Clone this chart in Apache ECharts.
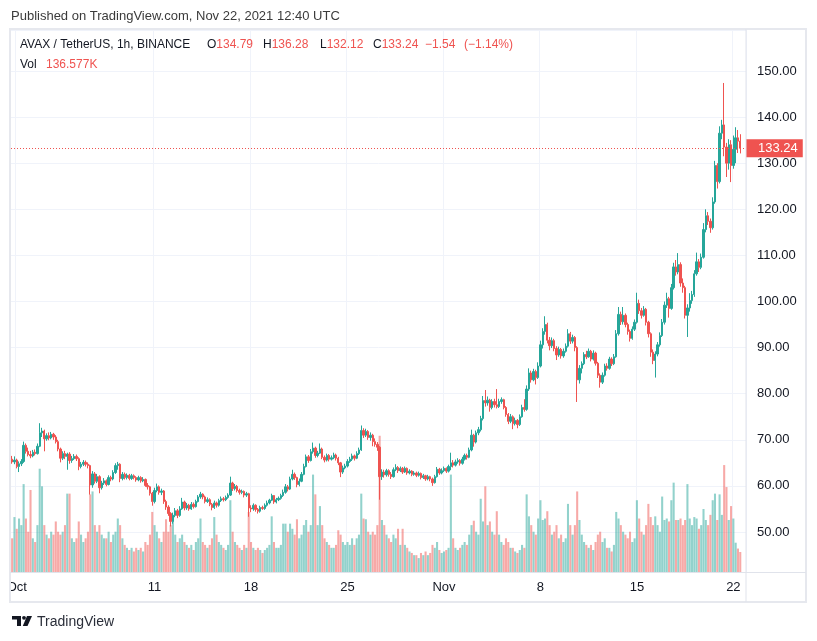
<!DOCTYPE html>
<html><head><meta charset="utf-8">
<script src="https://cdn.jsdelivr.net/npm/echarts@6/dist/echarts.min.js"></script>
<style>html,body{margin:0;padding:0;background:#fff}#c{width:817px;height:641px}</style>
</head><body><div id="c"></div>
<script>
// 4-hour candles, first one starts 2021-09-30 16:00 UTC
const startTime = Date.UTC(2021, 8, 30, 16);
const candleHours = 4;
const extraSlots = 2;

const opens = [
65.8,65.2,
65.6,64.2,64.8,65.3,68.8,67.5,
66.8,66.5,67.3,67.0,68.6,71.5,
71.9,70.2,70.9,70.4,71.2,70.6,
69.6,68.0,66.0,67.0,66.4,66.9,
65.5,65.9,66.4,65.9,64.2,64.7,
65.1,64.7,64.4,60.2,62.6,61.0,
62.0,59.6,60.6,61.1,60.3,61.8,
61.5,62.9,64.4,64.7,61.6,62.5,
61.8,62.3,61.6,62.2,61.8,61.3,
61.8,61.1,61.4,60.1,59.8,58.4,
56.6,59.0,59.8,58.6,58.9,56.6,
55.4,54.0,52.3,53.6,54.6,53.6,
55.0,56.5,55.2,55.8,55.0,56.0,
55.5,56.6,57.6,58.2,57.6,56.6,
57.0,56.0,55.3,56.3,55.8,56.8,
57.2,57.0,57.5,58.0,60.6,59.4,
59.9,59.0,58.6,58.8,58.0,58.3,
55.2,55.0,55.8,54.9,54.5,55.3,
55.1,55.8,56.3,56.9,57.9,56.5,
57.0,57.3,57.9,58.6,59.8,59.3,
61.5,62.5,61.8,60.3,61.0,62.5,
64.2,66.3,65.5,67.4,68.2,66.6,
67.1,68.0,66.2,65.6,66.6,65.8,
66.1,66.7,66.0,65.0,63.0,63.9,
64.3,65.3,65.8,66.5,66.0,67.0,
67.8,72.0,71.0,71.8,70.5,71.0,
69.6,69.0,68.4,62.0,63.0,62.4,
63.3,62.5,62.0,63.5,64.0,63.3,
63.8,63.0,63.8,62.8,63.2,62.5,
62.8,62.3,62.7,61.8,62.2,61.5,
62.0,61.5,60.7,62.0,63.6,62.8,
63.3,63.8,63.2,64.2,65.0,64.5,
65.2,65.5,64.9,65.8,66.6,66.2,
67.8,71.0,69.5,71.5,72.2,74.6,
78.5,78.0,78.6,77.0,78.3,77.6,
77.2,78.3,78.7,77.0,75.5,74.0,
75.0,73.5,74.2,73.3,75.0,77.0,
76.6,81.0,84.5,83.0,84.8,83.5,
86.0,90.6,93.5,95.0,91.6,90.4,
91.5,89.8,88.4,89.6,88.2,89.2,
90.3,93.0,91.4,92.2,90.0,83.0,
85.5,86.5,88.5,88.0,89.2,87.5,
88.8,86.6,84.0,82.5,84.0,86.0,
85.5,87.5,86.5,88.0,93.0,97.2,
95.6,97.0,95.0,93.5,92.0,94.0,
95.5,99.6,98.0,97.0,98.3,95.5,
93.0,89.0,87.2,88.6,90.6,92.6,
95.5,99.2,100.6,98.5,103.0,107.5,
106.4,108.0,104.0,103.0,97.0,98.6,
100.2,101.5,106.0,108.6,107.4,109.6,
115.6,118.6,117.4,116.0,121.6,129.5,
126.0,136.5,138.3,133.5,130.0,134.0,
129.5,133.0,135.5,134.79
];
const highs = [
66.5,66.4,
65.9,65.3,65.8,69.6,69.2,68.3,
67.6,67.8,67.9,69.2,73.6,72.6,
72.2,71.4,71.6,71.7,71.5,71.0,
70.0,68.3,67.5,67.6,67.2,67.3,
66.5,66.9,66.8,66.2,65.2,65.6,
65.5,65.1,64.6,63.2,63.0,62.6,
62.3,61.1,61.7,61.4,62.3,62.2,
63.4,64.9,65.2,64.9,63.0,62.9,
62.7,62.6,62.6,62.5,62.1,62.2,
62.1,61.9,61.6,60.6,60.0,58.7,
59.6,60.5,60.1,59.4,59.1,57.0,
55.8,54.3,54.2,55.2,55.0,55.6,
57.4,56.8,56.3,56.1,56.5,56.4,
57.0,58.0,58.7,58.4,57.9,57.5,
57.3,56.3,56.8,56.6,57.2,57.7,
57.6,57.9,58.4,62.0,60.9,60.4,
60.2,59.4,59.2,59.0,58.7,58.5,
55.8,56.2,56.0,55.2,55.7,55.7,
56.2,56.8,57.2,58.3,58.0,57.4,
57.7,58.3,59.2,60.4,60.2,62.0,
63.5,62.9,62.0,61.6,63.0,64.8,
66.8,66.7,68.0,69.4,68.5,67.6,
69.2,68.3,66.6,67.0,66.9,66.6,
67.2,67.0,66.3,65.2,64.4,64.8,
65.8,66.3,67.0,66.8,67.5,68.3,
73.1,72.5,72.4,72.1,71.6,71.3,
70.3,69.5,68.6,63.6,63.5,63.7,
63.6,63.0,64.0,64.7,64.3,64.2,
64.1,64.2,64.0,63.6,63.4,63.2,
63.1,63.1,62.9,62.6,62.4,62.4,
62.2,61.8,62.4,64.1,63.9,63.8,
64.2,64.0,64.6,67.2,65.6,65.7,
66.0,65.8,66.3,67.0,67.0,68.3,
72.2,71.3,72.0,72.8,75.2,79.5,
80.8,79.4,78.9,78.8,78.9,81.0,
78.9,79.2,78.9,77.3,75.8,75.6,
75.3,74.8,74.5,75.5,77.6,78.8,
81.8,85.5,85.0,85.4,85.2,86.8,
91.5,94.2,96.8,95.4,92.3,92.2,
91.9,90.3,90.2,89.9,89.8,90.9,
94.0,93.4,92.8,92.5,90.3,86.2,
87.0,89.0,89.3,89.8,89.5,89.4,
89.1,86.9,84.4,84.6,86.5,86.6,
88.0,87.9,88.6,93.8,98.8,97.8,
98.8,97.4,95.4,93.9,94.6,96.1,
101.9,100.4,98.6,99.0,98.6,95.8,
93.3,89.6,89.2,91.2,93.3,96.2,
100.0,101.9,101.0,103.8,108.4,109.0,
110.5,108.5,105.0,103.4,99.4,101.8,
102.3,106.8,110.6,109.2,110.4,117.0,
120.0,119.4,118.0,122.6,130.5,130.0,
138.0,139.4,147.4,134.4,135.2,135.0,
136.0,137.8,137.2,136.28
];
const lows = [
64.8,64.7,
63.8,63.0,64.3,65.0,67.0,66.4,
66.0,66.2,66.6,66.8,68.4,70.6,
67.5,69.8,69.9,70.1,70.0,69.2,
67.5,65.1,65.6,65.8,63.5,64.8,
65.0,65.6,65.4,63.4,63.8,64.3,
64.2,63.8,58.1,59.6,60.5,60.6,
58.4,59.2,60.2,59.9,60.1,61.0,
61.2,62.6,63.5,60.8,61.2,61.4,
61.4,61.2,61.3,61.4,60.9,61.0,
60.7,60.8,59.8,59.2,57.9,55.7,
56.2,58.6,58.1,58.0,56.1,54.8,
53.5,51.2,51.8,53.2,53.0,53.3,
54.8,54.7,54.8,54.6,54.8,55.1,
55.3,56.4,57.2,57.1,56.2,56.3,
55.6,54.7,55.0,55.3,55.5,56.5,
56.6,56.7,57.2,57.8,58.9,59.0,
58.6,58.1,58.2,57.5,57.6,53.3,
54.3,54.6,54.4,54.0,54.2,54.8,
54.8,55.5,56.0,56.7,56.1,56.2,
56.7,57.0,57.6,58.3,58.8,59.1,
61.2,61.3,59.7,59.9,60.8,62.3,
64.0,65.0,65.3,67.0,66.1,66.2,
66.9,65.8,65.1,65.3,65.3,65.5,
65.8,65.5,64.5,61.9,62.6,63.6,
64.0,65.0,65.4,65.5,65.8,66.7,
67.6,70.4,70.6,70.0,69.8,68.6,
68.5,67.6,57.0,61.3,61.8,62.0,
62.0,61.5,61.8,63.2,62.8,63.0,
62.6,62.8,62.4,62.5,62.1,62.2,
61.9,62.0,61.4,61.5,61.1,61.2,
61.0,60.0,60.5,61.8,62.4,62.5,
63.0,62.8,62.9,63.4,64.0,64.2,
64.8,64.4,64.6,65.5,65.7,66.0,
67.5,68.5,69.2,71.0,71.8,74.2,
77.2,77.4,76.1,76.6,77.0,76.8,
76.9,77.8,76.6,75.0,73.4,73.6,
72.3,73.1,72.5,73.0,74.8,76.1,
76.3,80.6,82.4,82.7,82.0,83.2,
85.7,89.8,92.8,90.9,89.4,89.9,
89.2,87.3,88.0,87.6,87.8,88.9,
90.0,90.8,90.9,89.2,78.2,82.2,
84.4,86.2,87.5,87.8,87.0,87.2,
86.1,83.4,81.3,82.1,83.7,85.0,
85.2,86.0,86.2,87.8,92.6,94.9,
95.0,94.4,92.8,91.3,91.7,93.6,
95.2,97.3,96.3,96.7,94.8,92.2,
88.0,86.4,83.5,88.1,90.2,92.3,
95.0,98.6,96.5,98.2,102.6,105.6,
105.9,103.2,101.9,96.3,92.3,97.8,
99.5,101.0,105.6,106.4,107.0,109.3,
115.0,116.6,114.9,115.6,121.2,124.5,
125.6,135.2,131.5,127.0,128.6,125.9,
128.8,130.0,132.2,132.12
];
const closes = [
65.2,65.6,
64.2,64.8,65.3,68.8,67.5,66.8,
66.5,67.3,67.0,68.6,71.5,71.9,
70.2,70.9,70.4,71.2,70.6,69.6,
68.0,66.0,67.0,66.4,66.9,65.5,
65.9,66.4,65.9,64.2,64.7,65.1,
64.7,64.4,60.2,62.6,61.0,62.0,
59.6,60.6,61.1,60.3,61.8,61.5,
62.9,64.4,64.7,61.6,62.5,61.8,
62.3,61.6,62.2,61.8,61.3,61.8,
61.1,61.4,60.1,59.8,58.4,56.6,
59.0,59.8,58.6,58.9,56.6,55.4,
54.0,52.3,53.6,54.6,53.6,55.0,
56.5,55.2,55.8,55.0,56.0,55.5,
56.6,57.6,58.2,57.6,56.6,57.0,
56.0,55.3,56.3,55.8,56.8,57.2,
57.0,57.5,58.0,60.6,59.4,59.9,
59.0,58.6,58.8,58.0,58.3,55.2,
55.0,55.8,54.9,54.5,55.3,55.1,
55.8,56.3,56.9,57.9,56.5,57.0,
57.3,57.9,58.6,59.8,59.3,61.5,
62.5,61.8,60.3,61.0,62.5,64.2,
66.3,65.5,67.4,68.2,66.6,67.1,
68.0,66.2,65.6,66.6,65.8,66.1,
66.7,66.0,65.0,63.0,63.9,64.3,
65.3,65.8,66.5,66.0,67.0,67.8,
72.0,71.0,71.8,70.5,71.0,69.6,
69.0,68.4,62.0,63.0,62.4,63.3,
62.5,62.0,63.5,64.0,63.3,63.8,
63.0,63.8,62.8,63.2,62.5,62.8,
62.3,62.7,61.8,62.2,61.5,62.0,
61.5,60.7,62.0,63.6,62.8,63.3,
63.8,63.2,64.2,65.0,64.5,65.2,
65.5,64.9,65.8,66.6,66.2,67.8,
71.0,69.5,71.5,72.2,74.6,78.5,
78.0,78.6,77.0,78.3,77.6,77.2,
78.3,78.7,77.0,75.5,74.0,75.0,
73.5,74.2,73.3,75.0,77.0,76.6,
81.0,84.5,83.0,84.8,83.5,86.0,
90.6,93.5,95.0,91.6,90.4,91.5,
89.8,88.4,89.6,88.2,89.2,90.3,
93.0,91.4,92.2,90.0,83.0,85.5,
86.5,88.5,88.0,89.2,87.5,88.8,
86.6,84.0,82.5,84.0,86.0,85.5,
87.5,86.5,88.0,93.0,97.2,95.6,
97.0,95.0,93.5,92.0,94.0,95.5,
99.6,98.0,97.0,98.3,95.5,93.0,
89.0,87.2,88.6,90.6,92.6,95.5,
99.2,100.6,98.5,103.0,107.5,106.4,
108.0,104.0,103.0,97.0,98.6,100.2,
101.5,106.0,108.6,107.4,109.6,115.6,
118.6,117.4,116.0,121.6,129.5,126.0,
136.5,138.3,133.5,130.0,134.0,129.5,
133.0,135.5,134.78,133.24
];
// volume in thousands (K)
const volumes = [
230,375,
295,365,320,600,365,275,
560,230,205,320,705,585,
320,255,230,275,255,345,
275,255,275,320,535,535,
230,205,230,345,255,205,
230,275,530,550,320,275,
320,255,230,230,275,205,
255,275,365,320,230,185,
165,150,165,140,165,150,
165,140,205,185,255,410,
320,275,230,205,275,360,
275,320,390,255,205,230,
255,205,185,165,185,150,
205,230,365,205,185,165,
185,230,375,255,205,185,
165,150,185,490,275,205,
185,165,150,185,165,410,
205,165,150,165,150,130,
150,165,185,380,205,165,
165,185,330,330,275,330,
295,255,360,230,255,320,
355,275,320,665,530,320,
450,320,230,205,185,165,
165,185,285,255,205,185,
205,185,230,185,230,255,
535,365,360,275,255,275,
255,320,930,355,320,255,
230,205,255,230,295,185,
295,185,165,140,130,115,
115,95,130,115,140,115,
130,185,165,205,150,130,
140,150,165,665,230,165,
150,165,185,205,185,255,
320,350,275,255,500,345,
585,320,345,275,255,415,
255,205,185,230,205,165,
165,140,130,150,185,165,
530,380,320,275,255,365,
490,355,365,415,320,255,
275,320,230,255,205,230,
465,320,255,320,550,355,
255,205,185,165,185,150,
205,255,275,205,230,165,
165,140,185,410,365,320,
275,255,230,275,205,230,
490,365,275,255,320,465,
375,320,380,320,275,515,
355,365,345,490,610,355,
355,365,320,355,600,365,
320,375,365,295,320,430,
355,320,390,490,535,355,
530,390,730,580,355,450,
365,200,160,136.577
];
const tickDates = ['2021-10-01','2021-10-11','2021-10-18','2021-10-25','2021-11-01','2021-11-08','2021-11-15','2021-11-22'];
const tickLabels = ['Oct','11','18','25','Nov','8','15','22'];

const UP = '#26a69a', DOWN = '#ef5350';
const UP_VOL = 'rgba(38,166,154,0.5)', DOWN_VOL = 'rgba(239,83,80,0.5)';
const FONT = '"Liberation Sans", Arial, sans-serif';
const TXT = '#131722';

const categories = [];
for (let i = 0; i < opens.length + extraSlots; i++) {
  const d = new Date(startTime + i * candleHours * 3600e3);
  categories.push(d.toISOString().slice(0, 16).replace('T', ' '));
}
function tickIndex(val) {
  if (!val || val.slice(11) !== '00:00') return -1;
  return tickDates.indexOf(val.slice(0, 10));
}
const candleData = opens.map((o, i) => [o, closes[i], lows[i], highs[i]]);
const volData = volumes.map((v, i) => ({ value: v, itemStyle: { color: closes[i] >= opens[i] ? UP_VOL : DOWN_VOL } }));

const n = closes.length;
const last = { o: opens[n-1], h: highs[n-1], l: lows[n-1], c: closes[n-1] };
const chg = last.c - closes[n-2];
const pct = chg / closes[n-2] * 100;
const fmtSigned = v => (v < 0 ? '\u2212' : '+') + Math.abs(v).toFixed(2);

const chart = echarts.init(document.getElementById('c'), null, { renderer: 'canvas' });
const legendRich = { k: { fill: TXT, fontSize: 12, fontFamily: FONT }, v: { fill: DOWN, fontSize: 12, fontFamily: FONT } };
function legendText(x, y, text) {
  return { type: 'text', x: x, y: y, z: 50, style: { text: text, rich: legendRich, fill: TXT, fontSize: 12, fontFamily: FONT, verticalAlign: 'middle' } };
}
const BORDER = '#e0e3eb';
chart.setOption({
  animation: false,
  backgroundColor: '#ffffff',
  grid: { left: 11, right: 71, top: 30, bottom: 69 },
  xAxis: {
    type: 'category', data: categories, boundaryGap: true,
    axisLine: { show: false }, axisTick: { show: false },
    axisLabel: {
      interval: (idx, val) => tickIndex(val) >= 0,
      formatter: val => { const k = tickIndex(val); return k >= 0 ? tickLabels[k] : ''; },
      margin: 9, fontSize: 13, color: TXT, fontFamily: FONT
    },
    splitLine: { show: true, interval: (idx, val) => tickIndex(val) >= 0, lineStyle: { color: '#f0f3fa', width: 1 } }
  },
  yAxis: [
    {
      type: 'value', position: 'right', min: 41.32, max: 158.89, splitNumber: 12,
      axisLine: { show: false }, axisTick: { show: false },
      axisLabel: { margin: 11, fontSize: 13, color: TXT, fontFamily: FONT, showMinLabel: false, showMaxLabel: false,
        formatter: v => v.toFixed(2) },
      splitLine: { lineStyle: { color: '#f0f3fa', width: 1 } }
    },
    { type: 'value', min: 0, max: 3700, show: false, splitLine: { show: false } }
  ],
  series: [
    {
      type: 'bar', name: 'Vol', xAxisIndex: 0, yAxisIndex: 1, data: volData,
      barCategoryGap: '10%', z: 1, silent: true
    },
    {
      type: 'candlestick', name: 'AVAX', xAxisIndex: 0, yAxisIndex: 0, data: candleData, z: 3,
      barWidth: '80%',
      itemStyle: { color: UP, color0: DOWN, borderColor: UP, borderColor0: DOWN, borderWidth: 1 },
      markLine: {
        silent: true, symbol: ['none', 'none'], animation: false,
        lineStyle: { color: DOWN, type: [1, 2], width: 1 },
        label: { show: true, position: 'end', distance: 0, formatter: () => last.c.toFixed(2),
          color: '#ffffff', backgroundColor: DOWN, padding: [3, 5, 2, 12], fontSize: 13, fontFamily: FONT },
        data: [{ yAxis: last.c }]
      }
    }
  ],
  graphic: [
    { type: 'text', x: 11, y: 16, style: { text: 'Published on TradingView.com, Nov 22, 2021 12:40 UTC', fill: '#3b3b3b', fontSize: 13, fontFamily: FONT, verticalAlign: 'middle' } },
    legendText(20, 45, '{k|AVAX / TetherUS, 1h, BINANCE}'),
    legendText(207, 45, '{k|O}{v|' + last.o.toFixed(2) + '}'),
    legendText(263, 45, '{k|H}{v|' + last.h.toFixed(2) + '}'),
    legendText(320, 45, '{k|L}{v|' + last.l.toFixed(2) + '}'),
    legendText(373, 45, '{k|C}{v|' + last.c.toFixed(2) + '}'),
    legendText(425, 45, '{v|' + fmtSigned(chg) + '}'),
    legendText(464, 45, '{v|(' + fmtSigned(pct) + '%)}'),
    legendText(20, 65, '{k|Vol}'),
    legendText(46, 65, '{v|' + (volumes[n-1]).toFixed(3) + 'K}'),
    { type: 'rect', z: 90, shape: { x: 0, y: 573, width: 10, height: 28 }, style: { fill: '#ffffff' } },
    { type: 'rect', z: 100, shape: { x: 10, y: 29, width: 796, height: 573 }, style: { fill: null, stroke: '#e6e8ee', lineWidth: 2 } },
    { type: 'line', z: 100, shape: { x1: 746, y1: 29, x2: 746, y2: 602 }, style: { stroke: BORDER, lineWidth: 1 } },
    { type: 'line', z: 100, shape: { x1: 10, y1: 572.5, x2: 806, y2: 572.5 }, style: { stroke: BORDER, lineWidth: 1 } },
    { type: 'rect', z: 100, shape: { x: 12, y: 616, width: 9, height: 3.5 }, style: { fill: '#131722' } },
    { type: 'rect', z: 100, shape: { x: 17, y: 616, width: 4, height: 10 }, style: { fill: '#131722' } },
    { type: 'circle', z: 100, shape: { cx: 24, cy: 617.8, r: 1.9 }, style: { fill: '#131722' } },
    { type: 'polygon', z: 100, shape: { points: [[27, 616], [32, 616], [27.5, 626], [22.8, 626]] }, style: { fill: '#131722' } },
    { type: 'text', x: 37, y: 622, style: { text: 'TradingView', fill: '#2a2e39', fontSize: 14, fontFamily: FONT, verticalAlign: 'middle' } }
  ]
});
</script>
</body></html>
